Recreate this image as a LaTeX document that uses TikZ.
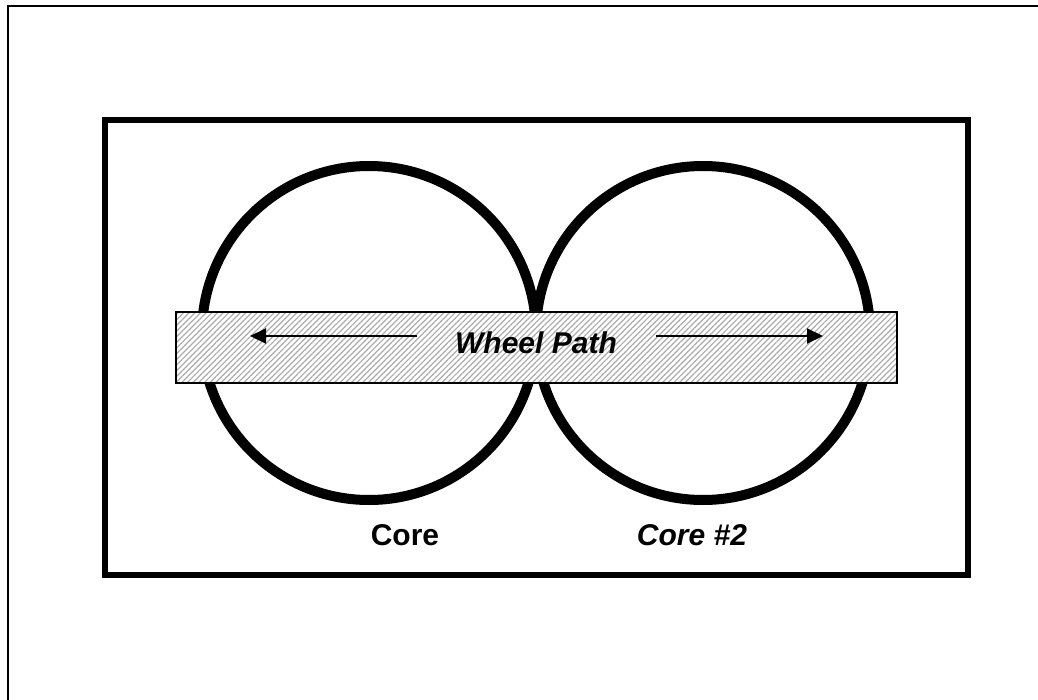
\documentclass[tikz,border=0pt]{standalone}
\usepackage{fontspec}
\setmainfont{Liberation Sans}
\usetikzlibrary{arrows.meta, patterns.meta}

\begin{document}
\begin{tikzpicture}[x=0.5pt, y=-0.5pt,
  ring/.style={circle, draw=black, line width=5pt, minimum size=167pt, inner sep=0pt},
  track/.style={draw=black, line width=1pt, minimum width=360.5pt, minimum height=35.5pt,
                inner sep=0pt, preaction={fill=white},
                pattern={Lines[angle=45, distance=2pt, line width=0.6pt]}, pattern color=gray!65},
  lbl/.style={font=\bfseries\fontsize{15}{18}\selectfont, inner sep=0pt},
  arr/.style={-{Triangle[length=8pt, width=7.5pt]}, line width=1pt}
]
  \useasboundingbox (0,0) rectangle (1038,700);

  %% Page frame (top and left edges only)
  \draw[line width=1pt] (8,700) -- (8,6) -- (1038,6);
  %% Plate
  \draw[line width=3pt] (105,120) rectangle (968,575);

  %% The two cores
  \node[ring] (core1) at (369,333) {};
  \node[ring] (core2) at (703,333) {};

  %% Hatched band across both cores
  \node[track] (path) at (536.5,347.5) {};
  \node[lbl, font=\bfseries\itshape\fontsize{15}{18}\selectfont] (wp) at (536,343) {Wheel Path};

  %% Direction arrows
  \coordinate (ltail) at (417,336);
  \coordinate (lhead) at (250,336);
  \coordinate (rtail) at (656,336);
  \coordinate (rhead) at (823,336);
  \draw[arr] (ltail) -- (lhead);
  \draw[arr] (rtail) -- (rhead);

  %% Core labels
  \node[lbl, anchor=base] (c1) at (405,545) {Core};
  \node[lbl, anchor=base, font=\bfseries\itshape\fontsize{15}{18}\selectfont] (c2) at (692,545) {Core \#2};
\end{tikzpicture}
\end{document}
